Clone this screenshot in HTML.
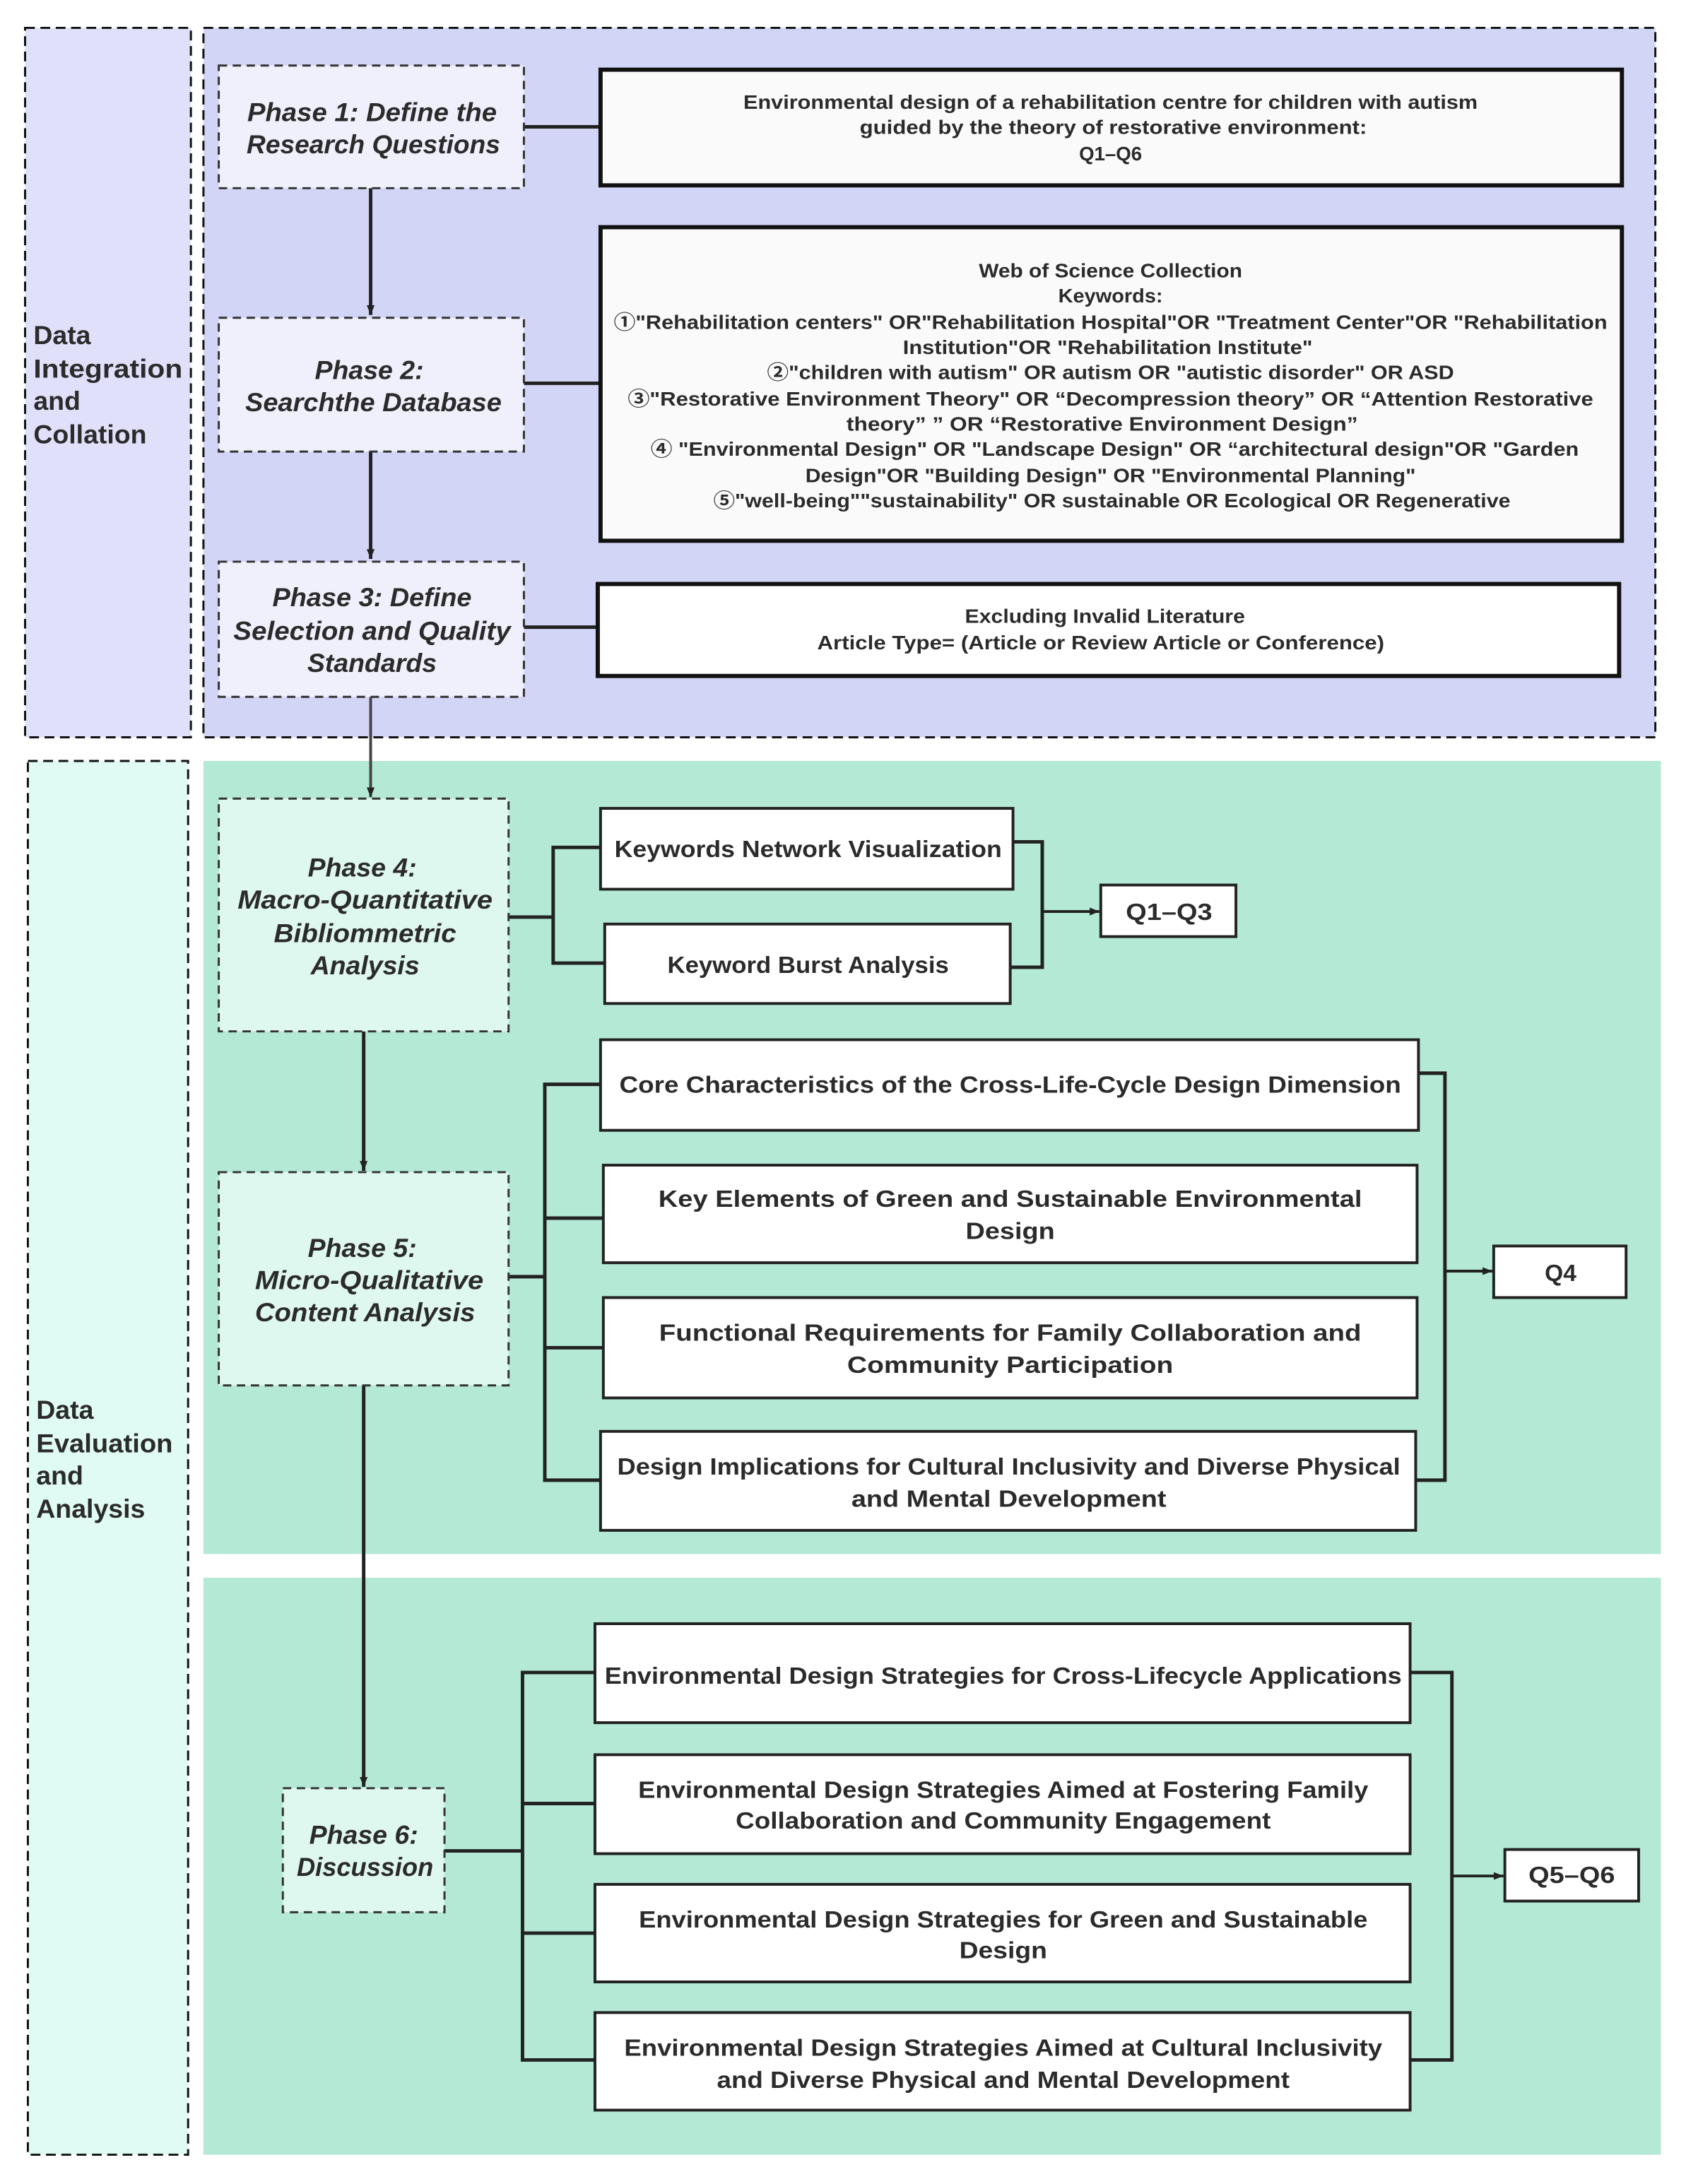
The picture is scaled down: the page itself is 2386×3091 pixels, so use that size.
<!DOCTYPE html>
<html><head><meta charset="utf-8"><style>
html,body{margin:0;padding:0;background:#fff;}
svg{display:block;}
text{font-family:"Liberation Sans","Noto Sans CJK SC",sans-serif;fill:#2b2b2b;font-weight:bold;}
.ph{font-style:italic;font-size:19px;}
.bx{font-size:17px;}
.sm{font-size:14px;}
</style></head><body>
<svg width="2386" height="3091" viewBox="0 0 1210 1567" preserveAspectRatio="none" xmlns="http://www.w3.org/2000/svg">
<defs><marker id="ar" viewBox="0 0 10 10" refX="10" refY="5" markerWidth="7" markerHeight="7" orient="auto" markerUnits="userSpaceOnUse"><path d="M0,1 L10,5 L0,9 Z" fill="#222"/></marker></defs>
<rect x="18" y="20" width="119" height="509" fill="#e0e0fa" stroke="#111" stroke-width="1.5" stroke-dasharray="7,4"/>
<rect x="146" y="20" width="1042" height="509" fill="#d3d5f7" stroke="#111" stroke-width="1.5" stroke-dasharray="7,4"/>
<rect x="20" y="546" width="115" height="1000" fill="#e0fbf3" stroke="#111" stroke-width="1.5" stroke-dasharray="7,4"/>
<rect x="146" y="546" width="1046" height="569" fill="#b3e9d5"/>
<rect x="146" y="1132" width="1046" height="414" fill="#b3e9d5"/>
<text x="24" y="247" font-size="19">Data</text>
<text x="24" y="271" font-size="19" textLength="107" lengthAdjust="spacingAndGlyphs">Integration</text>
<text x="24" y="294" font-size="19">and</text>
<text x="24" y="318" font-size="19">Collation</text>
<text x="26" y="1018" font-size="19">Data</text>
<text x="26" y="1042" font-size="19" textLength="98" lengthAdjust="spacingAndGlyphs">Evaluation</text>
<text x="26" y="1065" font-size="19">and</text>
<text x="26" y="1089" font-size="19">Analysis</text>
<g stroke="#222" stroke-width="2.5" fill="none">
<line x1="376" y1="91" x2="431" y2="91"/>
<line x1="376" y1="275" x2="431" y2="275"/>
<line x1="376" y1="450" x2="429" y2="450"/>
<line x1="266" y1="135" x2="266" y2="226" marker-end="url(#ar)"/>
<line x1="266" y1="324" x2="266" y2="401" marker-end="url(#ar)"/>
<line x1="266" y1="500" x2="266" y2="572" marker-end="url(#ar)" stroke="#444" stroke-width="2"/>
<line x1="261" y1="740" x2="261" y2="840" marker-end="url(#ar)"/>
<line x1="261" y1="994" x2="261" y2="1282" marker-end="url(#ar)"/>
<polyline points="365,658 397,658"/>
<polyline points="431,608 397,608 397,691 434,691"/>
<polyline points="727,604 748,604 748,694 725,694"/>
<line x1="748" y1="654" x2="789" y2="654" marker-end="url(#ar)" stroke-width="2"/>
<line x1="365" y1="916" x2="391" y2="916"/>
<polyline points="431,778 391,778 391,1062 431,1062"/>
<line x1="391" y1="874" x2="433" y2="874"/>
<line x1="391" y1="967" x2="433" y2="967"/>
<polyline points="1018,770 1037,770 1037,1062 1016,1062"/>
<line x1="1037" y1="912" x2="1071" y2="912" marker-end="url(#ar)" stroke-width="2"/>
<line x1="319" y1="1328" x2="375" y2="1328"/>
<polyline points="427,1200 375,1200 375,1478 427,1478"/>
<line x1="375" y1="1294" x2="427" y2="1294"/>
<line x1="375" y1="1387" x2="427" y2="1387"/>
<polyline points="1012,1200 1042,1200 1042,1478 1012,1478"/>
<line x1="1042" y1="1346" x2="1079" y2="1346" marker-end="url(#ar)" stroke-width="2"/>
</g>
<g stroke="#333" stroke-width="1.5" stroke-dasharray="6,4">
<rect x="157" y="47" width="219" height="88" fill="#f0f0fc"/>
<rect x="157" y="228" width="219" height="96" fill="#f0f0fc"/>
<rect x="157" y="403" width="219" height="97" fill="#f0f0fc"/>
<rect x="157" y="573" width="208" height="167" fill="#dff8ef"/>
<rect x="157" y="841" width="208" height="153" fill="#dff8ef"/>
<rect x="203" y="1283" width="116" height="89" fill="#dff8ef"/>
</g>
<g text-anchor="middle">
<text class="ph" x="267" y="87" textLength="179" lengthAdjust="spacingAndGlyphs">Phase 1: Define the</text>
<text class="ph" x="268" y="110" textLength="182" lengthAdjust="spacingAndGlyphs">Research Questions</text>
<text class="ph" x="265" y="272">Phase 2:</text>
<text class="ph" x="268" y="295" textLength="184" lengthAdjust="spacingAndGlyphs">Searchthe Database</text>
<text class="ph" x="267" y="435" textLength="143" lengthAdjust="spacingAndGlyphs">Phase 3: Define</text>
<text class="ph" x="267" y="459" textLength="199" lengthAdjust="spacingAndGlyphs">Selection and Quality</text>
<text class="ph" x="267" y="482">Standards</text>
<text class="ph" x="260" y="629">Phase 4:</text>
<text class="ph" x="262" y="652" textLength="183" lengthAdjust="spacingAndGlyphs">Macro-Quantitative</text>
<text class="ph" x="262" y="676" textLength="131" lengthAdjust="spacingAndGlyphs">Bibliommetric</text>
<text class="ph" x="262" y="699">Analysis</text>
<text class="ph" x="260" y="902">Phase 5:</text>
<text class="ph" x="265" y="925" textLength="164" lengthAdjust="spacingAndGlyphs">Micro-Qualitative</text>
<text class="ph" x="262" y="948" textLength="158" lengthAdjust="spacingAndGlyphs">Content Analysis</text>
<text class="ph" x="261" y="1323">Phase 6:</text>
<text class="ph" x="262" y="1346" textLength="98" lengthAdjust="spacingAndGlyphs">Discussion</text>
</g>
<g stroke="#111" stroke-width="3">
<rect x="431" y="50" width="733" height="83" fill="#fafafa"/>
<rect x="431" y="163" width="733" height="225" fill="#fafafa"/>
<rect x="429" y="419" width="733" height="66" fill="#fff"/>
</g>
<g stroke="#222" stroke-width="2" fill="#fff">
<rect x="431" y="580" width="296" height="58"/>
<rect x="434" y="663" width="291" height="57"/>
<rect x="790" y="635" width="97" height="37"/>
<rect x="431" y="746" width="587" height="65"/>
<rect x="433" y="836" width="584" height="70"/>
<rect x="433" y="931" width="584" height="72"/>
<rect x="431" y="1027" width="585" height="71"/>
<rect x="1072" y="894" width="95" height="37"/>
<rect x="427" y="1165" width="585" height="71"/>
<rect x="427" y="1259" width="585" height="71"/>
<rect x="427" y="1352" width="585" height="70"/>
<rect x="427" y="1444" width="585" height="70"/>
<rect x="1080" y="1327" width="96" height="37"/>
</g>
<g text-anchor="middle">
<text class="sm" x="797" y="78" textLength="527" lengthAdjust="spacingAndGlyphs">Environmental design of a rehabilitation centre for children with autism</text>
<text class="sm" x="799" y="96" textLength="364" lengthAdjust="spacingAndGlyphs">guided by the theory of restorative environment:</text>
<text class="sm" x="797" y="115">Q1–Q6</text>
<text class="sm" x="797" y="199" textLength="189" lengthAdjust="spacingAndGlyphs">Web of Science Collection</text>
<text class="sm" x="797" y="217" textLength="75" lengthAdjust="spacingAndGlyphs">Keywords:</text>
<text class="sm" x="797" y="236" textLength="713" lengthAdjust="spacingAndGlyphs">①"Rehabilitation centers" OR"Rehabilitation  Hospital"OR "Treatment Center"OR "Rehabilitation</text>
<text class="sm" x="795" y="254" textLength="294" lengthAdjust="spacingAndGlyphs">Institution"OR "Rehabilitation Institute"</text>
<text class="sm" x="797" y="272" textLength="493" lengthAdjust="spacingAndGlyphs">②"children with autism" OR  autism OR "autistic disorder" OR ASD</text>
<text class="sm" x="797" y="291" textLength="693" lengthAdjust="spacingAndGlyphs">③"Restorative Environment Theory" OR  “Decompression theory” OR  “Attention Restorative</text>
<text class="sm" x="791" y="309" textLength="367" lengthAdjust="spacingAndGlyphs">theory” ”  OR  “Restorative Environment Design”</text>
<text class="sm" x="800" y="327" textLength="666" lengthAdjust="spacingAndGlyphs">④  "Environmental Design" OR "Landscape Design" OR  “architectural design"OR "Garden</text>
<text class="sm" x="797" y="346" textLength="438" lengthAdjust="spacingAndGlyphs">Design"OR "Building Design" OR "Environmental Planning"</text>
<text class="sm" x="798" y="364" textLength="572" lengthAdjust="spacingAndGlyphs">⑤"well-being""sustainability"  OR sustainable OR Ecological OR Regenerative</text>
<text class="sm" x="793" y="447" textLength="201" lengthAdjust="spacingAndGlyphs">Excluding Invalid Literature</text>
<text class="sm" x="790" y="466" textLength="407" lengthAdjust="spacingAndGlyphs">Article Type=  (Article or Review Article or Conference)</text>
<text class="bx" x="580" y="615" textLength="278" lengthAdjust="spacingAndGlyphs">Keywords Network Visualization</text>
<text class="bx" x="580" y="698" textLength="202" lengthAdjust="spacingAndGlyphs">Keyword Burst Analysis</text>
<text class="bx" x="839" y="660" textLength="62" lengthAdjust="spacingAndGlyphs">Q1–Q3</text>
<text class="bx" x="725" y="784" textLength="561" lengthAdjust="spacingAndGlyphs">Core Characteristics of the Cross-Life-Cycle Design Dimension</text>
<text class="bx" x="725" y="866" textLength="505" lengthAdjust="spacingAndGlyphs">Key Elements of Green and Sustainable Environmental</text>
<text class="bx" x="725" y="889" textLength="64" lengthAdjust="spacingAndGlyphs">Design</text>
<text class="bx" x="725" y="962" textLength="504" lengthAdjust="spacingAndGlyphs">Functional Requirements for Family Collaboration and</text>
<text class="bx" x="725" y="985" textLength="234" lengthAdjust="spacingAndGlyphs">Community Participation</text>
<text class="bx" x="724" y="1058" textLength="562" lengthAdjust="spacingAndGlyphs">Design Implications for Cultural Inclusivity and Diverse Physical</text>
<text class="bx" x="724" y="1081" textLength="226" lengthAdjust="spacingAndGlyphs">and Mental Development</text>
<text class="bx" x="1120" y="919">Q4</text>
<text class="bx" x="720" y="1208" textLength="572" lengthAdjust="spacingAndGlyphs">Environmental Design Strategies for Cross-Lifecycle Applications</text>
<text class="bx" x="720" y="1290" textLength="524" lengthAdjust="spacingAndGlyphs">Environmental Design Strategies Aimed at Fostering Family</text>
<text class="bx" x="720" y="1312" textLength="384" lengthAdjust="spacingAndGlyphs">Collaboration and Community Engagement</text>
<text class="bx" x="720" y="1383" textLength="523" lengthAdjust="spacingAndGlyphs">Environmental Design Strategies for Green and Sustainable</text>
<text class="bx" x="720" y="1405" textLength="63" lengthAdjust="spacingAndGlyphs">Design</text>
<text class="bx" x="720" y="1475" textLength="544" lengthAdjust="spacingAndGlyphs">Environmental Design Strategies Aimed at Cultural Inclusivity</text>
<text class="bx" x="720" y="1498" textLength="411" lengthAdjust="spacingAndGlyphs">and Diverse Physical and Mental Development</text>
<text class="bx" x="1128" y="1351" textLength="62" lengthAdjust="spacingAndGlyphs">Q5–Q6</text>
</g>
</svg>
</body></html>
